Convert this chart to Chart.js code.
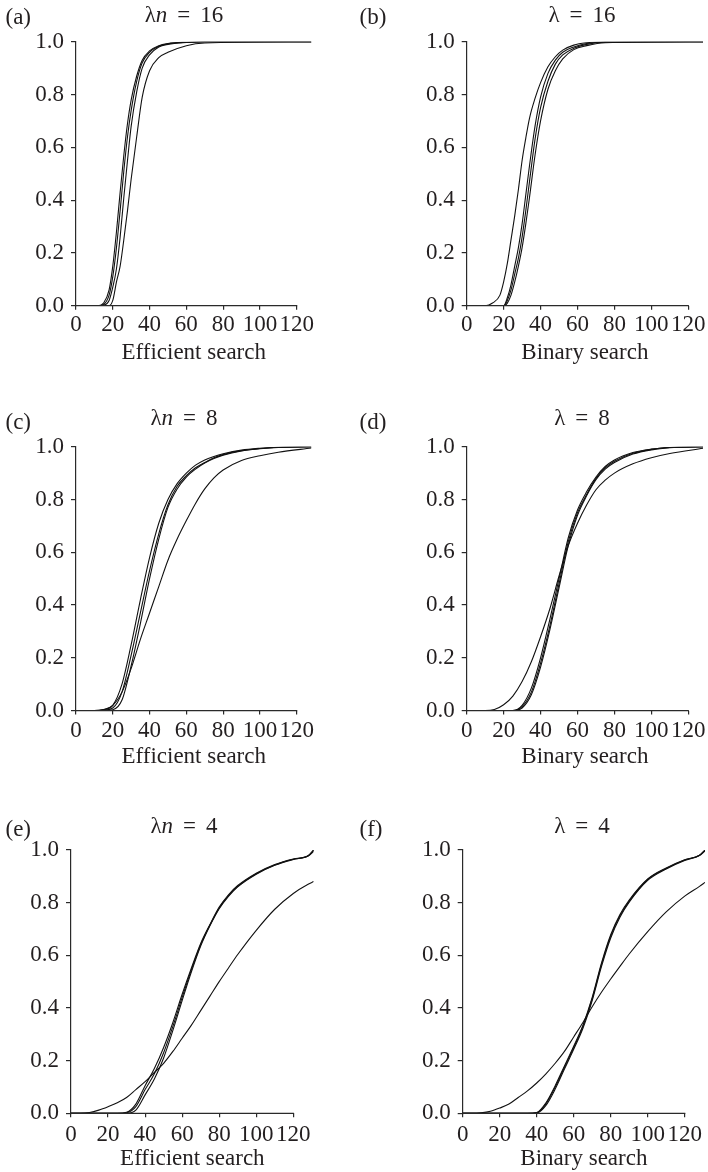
<!DOCTYPE html>
<html>
<head>
<meta charset="utf-8">
<script src="https://cdn.jsdelivr.net/npm/chart.js@4.4.1/dist/chart.umd.min.js"></script>
<style>
body{margin:0;background:#fff;width:708px;height:1172px;position:relative;overflow:hidden;
  font-family:"Liberation Serif","Times New Roman",serif;color:#231f20}
canvas{position:absolute}
.lab,.ttl{position:absolute;font-size:23px;line-height:23px;white-space:nowrap}
.ttl{width:200px;text-align:center}
.eq{margin:0 10px}
</style>
</head>
<body>
<script>
const yTicks = [0, 0.2, 0.4, 0.6, 0.8, 1.0];
const xTicks = [0, 20, 40, 60, 80, 100, 120];

// (a) lambda n = 16, efficient search
const xA = [0, 12, 15, 18, 20, 22, 24, 26, 28, 30, 33, 36, 40, 45, 50, 60, 70, 128];
const a1 = [0, 0, 0.01, 0.06, 0.15, 0.28, 0.43, 0.57, 0.69, 0.78, 0.87, 0.93, 0.965, 0.985, 0.993, 0.998, 1, 1];
const a2 = [0, 0, 0.005, 0.04, 0.11, 0.22, 0.36, 0.51, 0.64, 0.74, 0.85, 0.92, 0.96, 0.983, 0.992, 0.998, 1, 1];
const a3 = [0, 0, 0.002, 0.02, 0.07, 0.14, 0.26, 0.41, 0.55, 0.68, 0.81, 0.9, 0.95, 0.98, 0.99, 0.997, 1, 1];
const a4 = [0, 0, 0, 0, 0.02, 0.09, 0.15, 0.25, 0.36, 0.48, 0.64, 0.79, 0.89, 0.94, 0.96, 0.985, 0.995, 1];

// (b) lambda = 16, binary search
const xB = [0, 10, 14, 18, 20, 22, 24, 26, 28, 30, 32, 34, 37, 40, 44, 48, 52, 58, 65, 75, 128];
const b1 = [0, 0, 0.01, 0.04, 0.09, 0.16, 0.25, 0.34, 0.44, 0.55, 0.635, 0.71, 0.785, 0.845, 0.905, 0.943, 0.968, 0.987, 0.996, 1, 1];
const b2 = [0, 0, 0, 0, 0, 0.03, 0.08, 0.15, 0.22, 0.31, 0.42, 0.53, 0.68, 0.79, 0.88, 0.93, 0.96, 0.98, 0.993, 0.999, 1];
const b3 = [0, 0, 0, 0, 0, 0.02, 0.06, 0.12, 0.18, 0.26, 0.36, 0.47, 0.63, 0.75, 0.85, 0.915, 0.95, 0.975, 0.99, 0.998, 1];
const b4 = [0, 0, 0, 0, 0, 0.01, 0.04, 0.09, 0.15, 0.22, 0.31, 0.41, 0.57, 0.7, 0.82, 0.89, 0.935, 0.97, 0.985, 0.996, 1];

// (c) lambda n = 8, efficient search
const xC = [0, 10, 15, 20, 25, 30, 35, 40, 45, 50, 55, 60, 65, 70, 75, 80, 90, 100, 110, 128];
const c1 = [0, 0, 0.004, 0.02, 0.1, 0.25, 0.42, 0.58, 0.71, 0.8, 0.86, 0.9, 0.93, 0.95, 0.963, 0.973, 0.987, 0.994, 0.998, 1];
const c2 = [0, 0, 0.002, 0.01, 0.07, 0.21, 0.37, 0.53, 0.67, 0.78, 0.85, 0.89, 0.92, 0.94, 0.958, 0.97, 0.985, 0.993, 0.998, 1];
const c3 = [0, 0, 0, 0.003, 0.04, 0.17, 0.33, 0.5, 0.65, 0.77, 0.84, 0.885, 0.915, 0.938, 0.955, 0.968, 0.984, 0.992, 0.997, 1];
const c4 = [0, 0, 0.003, 0.02, 0.07, 0.16, 0.27, 0.37, 0.47, 0.57, 0.65, 0.72, 0.785, 0.84, 0.882, 0.912, 0.948, 0.966, 0.979, 0.995];

// (d) lambda = 8, binary search
const xD = [0, 10, 15, 20, 25, 30, 35, 40, 45, 50, 55, 60, 65, 70, 75, 80, 90, 100, 110, 128];
const d1 = [0, 0, 0.004, 0.022, 0.055, 0.11, 0.185, 0.28, 0.385, 0.51, 0.625, 0.71, 0.78, 0.837, 0.873, 0.9, 0.935, 0.958, 0.974, 0.994];
const d2 = [0, 0, 0, 0, 0, 0.02, 0.085, 0.2, 0.345, 0.5, 0.655, 0.76, 0.83, 0.885, 0.925, 0.95, 0.978, 0.991, 0.997, 1];
const d3 = [0, 0, 0, 0, 0, 0.015, 0.07, 0.18, 0.32, 0.48, 0.64, 0.75, 0.82, 0.88, 0.92, 0.945, 0.975, 0.99, 0.997, 1];
const d4 = [0, 0, 0, 0, 0, 0.01, 0.06, 0.165, 0.305, 0.465, 0.625, 0.74, 0.815, 0.875, 0.915, 0.94, 0.972, 0.988, 0.996, 1];

// (e) lambda n = 4, efficient search
const xE = [0, 5, 10, 15, 20, 25, 30, 35, 40, 45, 50, 55, 60, 65, 70, 75, 80, 85, 90, 100, 110, 120, 128, 131];
const e1 = [0, 0, 0, 0, 0, 0, 0.004, 0.035, 0.105, 0.17, 0.25, 0.345, 0.452, 0.552, 0.645, 0.717, 0.783, 0.83, 0.865, 0.912, 0.945, 0.966, 0.978, 1];
const e2 = [0, 0, 0, 0, 0, 0, 0.002, 0.025, 0.09, 0.15, 0.23, 0.33, 0.44, 0.545, 0.64, 0.715, 0.78, 0.827, 0.862, 0.91, 0.943, 0.965, 0.978, 1];
const e3 = [0, 0, 0, 0, 0, 0, 0, 0.012, 0.07, 0.13, 0.21, 0.315, 0.428, 0.537, 0.635, 0.712, 0.777, 0.824, 0.86, 0.908, 0.942, 0.964, 0.977, 0.995];
const e4 = [0, 0, 0.003, 0.012, 0.025, 0.04, 0.06, 0.09, 0.12, 0.155, 0.19, 0.235, 0.285, 0.335, 0.39, 0.445, 0.5, 0.552, 0.603, 0.695, 0.775, 0.835, 0.87, 0.88];

// (f) lambda = 4, binary search
const xF = [0, 5, 10, 15, 20, 25, 30, 35, 40, 45, 50, 55, 60, 65, 70, 75, 80, 85, 90, 100, 110, 120, 128, 131];
const f1 = [0, 0, 0.002, 0.008, 0.02, 0.035, 0.06, 0.085, 0.115, 0.15, 0.19, 0.235, 0.29, 0.345, 0.405, 0.46, 0.51, 0.558, 0.605, 0.69, 0.765, 0.825, 0.862, 0.877];
const f2 = [0, 0, 0, 0, 0, 0, 0, 0, 0.003, 0.04, 0.105, 0.18, 0.255, 0.335, 0.44, 0.57, 0.678, 0.755, 0.81, 0.89, 0.932, 0.963, 0.98, 1];
const f3 = [0, 0, 0, 0, 0, 0, 0, 0, 0.002, 0.036, 0.1, 0.175, 0.25, 0.33, 0.435, 0.565, 0.673, 0.75, 0.806, 0.888, 0.93, 0.962, 0.98, 1];
const f4 = [0, 0, 0, 0, 0, 0, 0, 0, 0.001, 0.03, 0.092, 0.168, 0.243, 0.323, 0.428, 0.557, 0.666, 0.745, 0.802, 0.885, 0.928, 0.96, 0.979, 0.997];

const panels = [
  {label: '(a)', sym: 'λ<i>n</i>', val: '16', xName: 'Efficient search', xs: xA, series: [a1, a2, a3, a4]},
  {label: '(b)', sym: 'λ', val: '16', xName: 'Binary search', xs: xB, series: [b1, b2, b3, b4]},
  {label: '(c)', sym: 'λ<i>n</i>', val: '8', xName: 'Efficient search', xs: xC, series: [c1, c2, c3, c4]},
  {label: '(d)', sym: 'λ', val: '8', xName: 'Binary search', xs: xD, series: [d1, d2, d3, d4]},
  {label: '(e)', sym: 'λ<i>n</i>', val: '4', xName: 'Efficient search', xs: xE, series: [e1, e2, e3, e4]},
  {label: '(f)', sym: 'λ', val: '4', xName: 'Binary search', xs: xF, series: [f1, f2, f3, f4]}
];

// page geometry of each panel (px): y axis x, x of tick 120, y of 1.0 and 0.0
const boxes = [
  {colX: 0,   rowTop: 0,   rowH: 380, ax: 76,    a120: 296.7, y1: 41.7,  y0: 305.7,  xH: 58.6, pad: 3.3, tBase: 22.7,  lBase: 24,  tCx: 184},
  {colX: 354, rowTop: 0,   rowH: 380, ax: 466.7, a120: 688.3, y1: 41.7,  y0: 305.7,  xH: 58.6, pad: 3.3, tBase: 22.7,  lBase: 24,  tCx: 582},
  {colX: 0,   rowTop: 380, rowH: 400, ax: 76,    a120: 296.7, y1: 446.7, y0: 710.6,  xH: 58,   pad: 4.6, tBase: 425,   lBase: 429, tCx: 184},
  {colX: 354, rowTop: 380, rowH: 400, ax: 466.7, a120: 688.3, y1: 446.7, y0: 710.6,  xH: 58,   pad: 4.6, tBase: 425,   lBase: 429, tCx: 582},
  {colX: 0,   rowTop: 780, rowH: 392, ax: 71,    a120: 293.3, y1: 850,   y0: 1113.3, xH: 57,   pad: 5.7, tBase: 833.3, lBase: 836, tCx: 184},
  {colX: 354, rowTop: 780, rowH: 392, ax: 462.7, a120: 684.7, y1: 850,   y0: 1113.3, xH: 57,   pad: 5.7, tBase: 833.3, lBase: 836, tCx: 582}
];

const ink = '#231f20';
const axisInk = '#2a2a2a';
const font = {family: "'Liberation Serif', 'Times New Roman', serif", size: 23, lineHeight: 1};

const xAxisLine = {
  id: 'xAxisLine',
  afterDatasetsDraw(chart) {
    const {ctx, scales: {x, y}} = chart;
    const yb = y.getPixelForValue(0);
    ctx.save();
    ctx.strokeStyle = axisInk;
    ctx.lineWidth = 1.2;
    ctx.beginPath();
    ctx.moveTo(x.getPixelForValue(0) - 0.6, yb);
    ctx.lineTo(x.getPixelForValue(xTicks[xTicks.length - 1]) + 0.6, yb);
    ctx.stroke();
    ctx.restore();
  }
};

panels.forEach((p, i) => {
  const b = boxes[i];
  const xMax = p.xs[p.xs.length - 1];
  const unit = (b.a120 - b.ax) / 120;
  const right = b.ax + xMax * unit;

  const cv = document.createElement('canvas');
  cv.width = 354; cv.height = b.rowH;
  cv.style.left = b.colX + 'px'; cv.style.top = b.rowTop + 'px';
  document.body.appendChild(cv);

  const lab = document.createElement('div');
  lab.className = 'lab';
  lab.textContent = p.label;
  lab.style.left = (b.colX + 5.5) + 'px';
  lab.style.top = (b.lBase - 19.3) + 'px';
  document.body.appendChild(lab);

  const ttl = document.createElement('div');
  ttl.className = 'ttl';
  ttl.innerHTML = p.sym + '<span class="eq">=</span>' + p.val;
  ttl.style.left = (b.tCx - 100) + 'px';
  ttl.style.top = (b.tBase - 19.3) + 'px';
  document.body.appendChild(ttl);

  new Chart(cv, {
    type: 'line',
    data: {
      datasets: p.series.map(s => ({
        data: p.xs.map((x, k) => ({x: x, y: s[k]})),
        borderColor: '#111',
        borderWidth: 1.1,
        pointRadius: 0,
        fill: false,
        cubicInterpolationMode: 'monotone'
      }))
    },
    options: {
      responsive: false,
      animation: false,
      devicePixelRatio: 1,
      layout: {padding: {left: 0, right: b.colX + 354 - right, top: b.y1 - b.rowTop, bottom: b.rowTop + b.rowH - b.y0 - b.xH}},
      plugins: {legend: {display: false}, tooltip: {enabled: false}, title: {display: false}},
      scales: {
        x: {
          type: 'linear', min: 0, max: xMax,
          afterBuildTicks: s => { s.ticks = xTicks.map(v => ({value: v})); },
          afterFit: s => { s.height = b.xH; s.paddingLeft = 0; s.paddingRight = 0; },
          grid: {drawOnChartArea: false, drawTicks: true, tickLength: 4, color: axisInk, lineWidth: 1.2},
          border: {display: false},
          ticks: {autoSkip: false, maxRotation: 0, minRotation: 0, padding: b.pad, color: ink, font: font},
          title: {display: true, text: p.xName, color: ink, font: font, padding: 0}
        },
        y: {
          type: 'linear', min: 0, max: 1,
          afterBuildTicks: s => { s.ticks = yTicks.map(v => ({value: v})); },
          afterFit: s => { s.width = b.ax - b.colX; s.paddingTop = 0; s.paddingBottom = 0; },
          grid: {drawOnChartArea: false, drawTicks: true, tickLength: 5, color: axisInk, lineWidth: 1.2},
          border: {display: true, color: axisInk, width: 1.2},
          ticks: {padding: 7, color: ink, font: font, callback: v => v.toFixed(1)}
        }
      }
    },
    plugins: [xAxisLine]
  });
});
</script>
</body>
</html>
